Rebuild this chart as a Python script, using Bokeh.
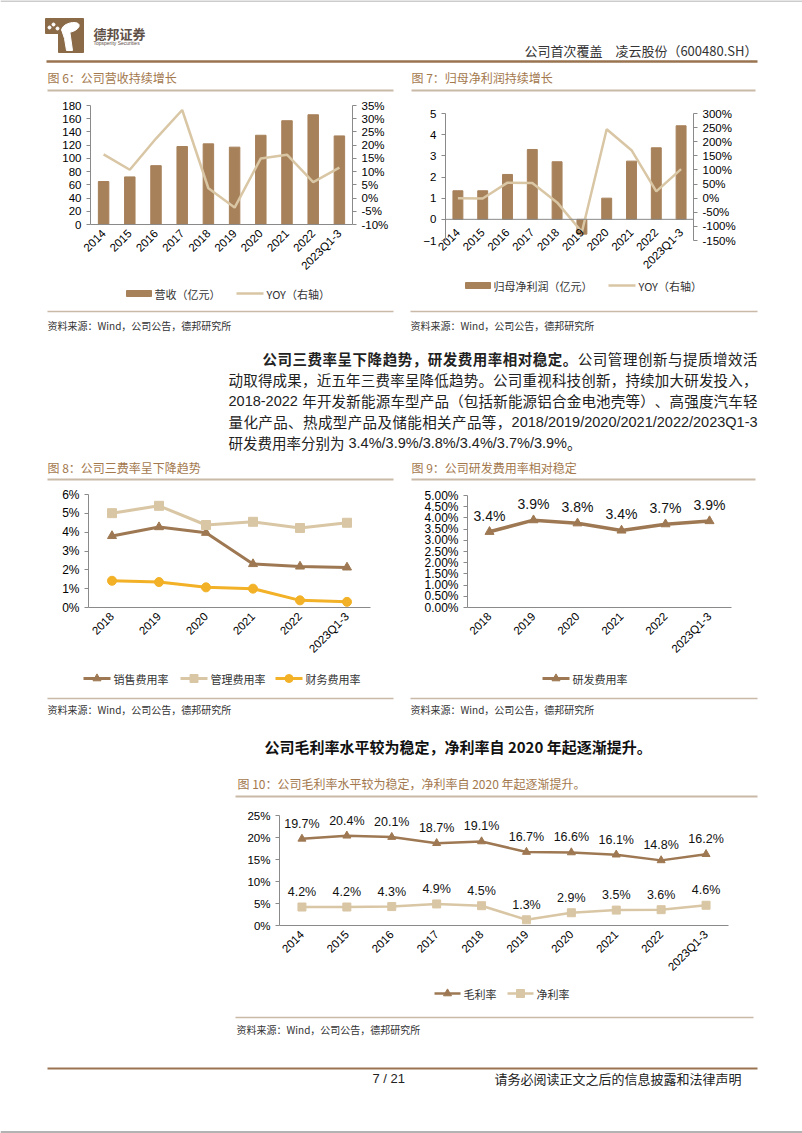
import math
from bokeh.plotting import figure
from bokeh.models import (Range1d, FactorRange, LinearAxis, SingleIntervalTicker,
                          PrintfTickFormatter, LabelSet, ColumnDataSource, Span)
from bokeh.layouts import column, row
from bokeh.core.properties import value
from bokeh.embed import file_html
from bokeh.resources import INLINE

CJK = "Noto Sans CJK SC"
LAT = "Liberation Sans"

# ---------------- data ----------------
years10 = ["2014", "2015", "2016", "2017", "2018", "2019", "2020", "2021", "2022", "2023Q1-3"]
revenue = [65, 72, 89, 118, 122, 117, 135, 157, 166, 134]
revenue_yoy = [16.5, 10.7, 22.5, 33.3, 3.7, -3.6, 15.0, 16.4, 6.0, 11.5]
profit = [1.35, 1.35, 2.12, 3.30, 2.72, -0.70, 1.00, 2.75, 3.38, 4.42]
profit_yoy = [0, -1, 55, 54, -15, -120, 244, 170, 24, 103]

years6 = ["2018", "2019", "2020", "2021", "2022", "2023Q1-3"]
sales_rate = [3.80, 4.27, 3.97, 2.31, 2.18, 2.13]
admin_rate = [5.01, 5.40, 4.38, 4.55, 4.22, 4.50]
fin_rate = [1.42, 1.35, 1.07, 1.00, 0.38, 0.30]
rd_rate = [3.38, 3.90, 3.76, 3.44, 3.72, 3.86]
rd_labels = ["3.4%", "3.9%", "3.8%", "3.4%", "3.7%", "3.9%"]

gross_margin = [19.7, 20.4, 20.1, 18.7, 19.1, 16.7, 16.6, 16.1, 14.8, 16.2]
net_margin = [4.2, 4.2, 4.3, 4.9, 4.5, 1.3, 2.9, 3.5, 3.6, 4.6]

# ---------------- styles ----------------
BAR = "#A7815A"
TAN = "#D9C6A4"
DARK = "#9E7852"
GOLD = "#F2B126"
HEAD = "#9A7450"
TITLE = "#A3784D"
RULE = "#C9B9A7"
AX = "#8a8a8a"
W = 802


def deco(y0, h):
    p = figure(width=W, height=h, x_range=Range1d(0, W), y_range=Range1d(y0 + h, y0),
               toolbar_location=None, output_backend="svg",
               x_axis_location=None, y_axis_location=None, outline_line_color=None,
               min_border_left=0, min_border_right=0, min_border_top=0, min_border_bottom=0)
    p.xgrid.visible = False
    p.ygrid.visible = False
    return p


def txt(p, x, y, s, size, color="#333333", font=CJK, align="left", style="normal"):
    p.text(x=[x], y=[y], text=[s], text_font=value(font), text_font_size=f"{size}px",
           text_color=color, text_align=align, text_baseline="middle", text_font_style=style)


def hl(p, x0, x1, y, color=RULE, w=1.5):
    p.segment(x0=[x0], y0=[y], x1=[x1], y1=[y], line_color=color, line_width=w)


def leg_bar(p, x, y, label):
    p.quad(left=[x], right=[x + 25], top=[y - 3], bottom=[y + 3], color=BAR)
    txt(p, x + 28, y, label, 11)


def leg_line(p, x, y, color, label, marker=None, w=27, lw=3):
    p.segment(x0=[x], y0=[y], x1=[x + w], y1=[y], line_color=color, line_width=lw)
    if marker:
        p.scatter(x=[x + w / 2], y=[y], marker=marker, size=8, color=color)
    txt(p, x + w + 3, y, label, 11)


LATW = {c: 0.556 for c in "0123456789"}
LATW.update({"/": 0.278, ".": 0.278, "%": 0.889, "-": 0.333, "Q": 0.778, " ": 0.278})


def tokenize(parts, size):
    toks = []
    for s, style in parts:
        run = ""
        for ch in s:
            if ord(ch) >= 0x2E80 or ch == " ":
                if run:
                    toks.append((run, style, LAT, sum(LATW.get(c, 0.55) for c in run) * size))
                    run = ""
                if ch == " ":
                    toks.append(("", style, LAT, 0.278 * size))
                else:
                    toks.append((ch, style, CJK, size))
            else:
                run += ch
        if run:
            toks.append((run, style, LAT, sum(LATW.get(c, 0.55) for c in run) * size))
    return toks


def para(p, x0, x1, y, parts, size, color="#222222"):
    toks = tokenize(parts, size)
    total = sum(t[3] for t in toks)
    gap = 0 if x1 is None else (x1 - x0 - total) / (len(toks) - 1)
    x = x0
    for s, style, font, w in toks:
        if s:
            txt(p, x, y, s, size, color=color, font=font, style=style)
        x += w + gap


def style_axis(ax, size="11.5px"):
    ax.axis_line_color = AX
    ax.major_tick_line_color = AX
    ax.minor_tick_line_color = None
    ax.major_tick_out = 4
    ax.major_tick_in = 0
    ax.major_label_text_font = LAT
    ax.major_label_text_font_size = size
    ax.major_label_text_color = "#000000"


def chart(w, h, factors, y0, y1, ml, mr, mt, mb):
    p = figure(width=w, height=h, x_range=FactorRange(*factors), y_range=Range1d(y0, y1),
               min_border_left=ml, min_border_right=mr, min_border_top=mt, min_border_bottom=mb,
               toolbar_location=None, output_backend="svg", outline_line_color=None)
    p.xgrid.visible = False
    p.ygrid.visible = False
    style_axis(p.xaxis[0])
    style_axis(p.yaxis[0])
    p.xaxis.major_tick_line_color = None
    p.xaxis.major_label_orientation = math.pi / 4
    p.xaxis.major_label_standoff = 3
    return p


# ---------------- header (y 0..96) ----------------
hdr = deco(0, 96)
hl(hdr, 0, W, 0.5, "#9a9a9a", 1)
hdr.patch(x=[45, 83, 83, 58, 58, 45], y=[18, 18, 52, 52, 33, 33], color="#8B6A48")
hdr.ellipse(x=[70], y=[27], width=[18], height=[9], angle=[0.3], color="white")
hdr.patch(x=[61, 69, 72, 66, 64], y=[29, 29, 50, 50, 38], color="white")
hdr.scatter(x=[49, 53, 57], y=[27, 24, 28], size=3, color="white")
txt(hdr, 93, 33, "德邦证券", 13, color="#5E5046", style="bold")
txt(hdr, 93, 42, "Topsperity Securities", 5, color="#5E5046", font=LAT)
txt(hdr, 757, 50, "公司首次覆盖　凌云股份（600480.SH）", 13, color="#333333", align="right")
hl(hdr, 46, 757, 61, HEAD, 2.5)
txt(hdr, 47, 77, "图 6：公司营收持续增长", 12, color=TITLE)
txt(hdr, 411, 77, "图 7：归母净利润持续增长", 12, color=TITLE)
hl(hdr, 47, 393, 90, RULE, 2)
hl(hdr, 411, 755, 90, RULE, 2)

# ---------------- fig 6 (y 96..279, x 0..400) ----------------
p6 = chart(400, 183, years10, 0, 180, 90, 48, 9, 52)
p6.yaxis.ticker = SingleIntervalTicker(interval=20)
p6.extra_y_ranges = {"yoy": Range1d(-10, 35)}
ax6 = LinearAxis(y_range_name="yoy", ticker=SingleIntervalTicker(interval=5),
                 formatter=PrintfTickFormatter(format="%d%%"))
style_axis(ax6)
p6.add_layout(ax6, "right")
p6.vbar(x=years10, top=revenue, width=0.4, color=BAR)
p6.line(x=years10, y=revenue_yoy, y_range_name="yoy", line_color=TAN, line_width=2.5)

# ---------------- fig 7 (y 96..279, x 400..802) ----------------
p7 = chart(402, 183, years10, -1, 5, 45, 109, 17, 39)
p7.yaxis.ticker = SingleIntervalTicker(interval=1)
p7.xaxis.axis_line_color = None
p7.xaxis.major_label_standoff = -14
p7.add_layout(Span(location=0, dimension="width", line_color=AX, line_width=1))
p7.extra_y_ranges = {"yoy": Range1d(-150, 300)}
ax7 = LinearAxis(y_range_name="yoy", ticker=SingleIntervalTicker(interval=50),
                 formatter=PrintfTickFormatter(format="%d%%"))
style_axis(ax7)
p7.add_layout(ax7, "right")
p7.vbar(x=years10, top=profit, width=0.4, color=BAR)
p7.line(x=years10, y=profit_yoy, y_range_name="yoy", line_color=TAN, line_width=2.5)

# ---------------- text block 1 (y 279..482) ----------------
t1 = deco(279, 203)
leg_bar(t1, 126, 293, "营收（亿元）")
leg_line(t1, 236, 293, TAN, "YOY（右轴）", lw=2.5)
leg_bar(t1, 465, 285, "归母净利润（亿元）")
leg_line(t1, 608, 285, TAN, "YOY（右轴）", lw=2.5)
hl(t1, 47, 393, 311, RULE, 1.5)
hl(t1, 410, 757, 311, RULE, 1.5)
txt(t1, 47, 325, "资料来源：Wind，公司公告，德邦研究所", 10)
txt(t1, 410, 325, "资料来源：Wind，公司公告，德邦研究所", 10)
FS = 14.5
para(t1, 262, 757, 358, [("公司三费率呈下降趋势，研发费用率相对稳定。", "bold"),
                         ("公司管理创新与提质增效活", "normal")], FS)
para(t1, 228, 757, 379, [("动取得成果，近五年三费率呈降低趋势。公司重视科技创新，持续加大研发投入，", "normal")], FS)
para(t1, 228, 757, 400, [("2018-2022 年开发新能源车型产品（包括新能源铝合金电池壳等）、高强度汽车轻", "normal")], FS)
para(t1, 228, 757, 421, [("量化产品、热成型产品及储能相关产品等，2018/2019/2020/2021/2022/2023Q1-3", "normal")], FS)
para(t1, 228, None, 442, [("研发费用率分别为 3.4%/3.9%/3.8%/3.4%/3.7%/3.9%。", "normal")], FS)
txt(t1, 47, 467, "图 8：公司三费率呈下降趋势", 12, color=TITLE)
txt(t1, 411, 467, "图 9：公司研发费用率相对稳定", 12, color=TITLE)
hl(t1, 47, 393, 479, RULE, 2)
hl(t1, 411, 755, 479, RULE, 2)

# ---------------- fig 8 (y 482..662) ----------------
p8 = chart(400, 180, years6, 0, 6, 88, 30, 12, 51)
p8.yaxis.ticker = SingleIntervalTicker(interval=1)
p8.yaxis.formatter = PrintfTickFormatter(format="%d%%")
p8.yaxis.major_label_text_font_size = "12px"
p8.line(x=years6, y=sales_rate, line_color=DARK, line_width=3)
p8.scatter(x=years6, y=sales_rate, marker="triangle", size=9, color=DARK)
p8.line(x=years6, y=admin_rate, line_color=TAN, line_width=3)
p8.scatter(x=years6, y=admin_rate, marker="square", size=9, color=TAN)
p8.line(x=years6, y=fin_rate, line_color=GOLD, line_width=3)
p8.scatter(x=years6, y=fin_rate, marker="circle", size=9, color=GOLD)

# ---------------- fig 9 (y 482..662) ----------------
p9 = chart(402, 180, years6, 0, 5, 67, 71, 13, 51)
p9.yaxis.ticker = SingleIntervalTicker(interval=0.5)
p9.yaxis.formatter = PrintfTickFormatter(format="%.2f%%")
p9.yaxis.major_label_text_font_size = "12px"
p9.line(x=years6, y=rd_rate, line_color=DARK, line_width=3.5)
p9.scatter(x=years6, y=rd_rate, marker="triangle", size=9, color=DARK)
src9 = ColumnDataSource(dict(x=years6, y=rd_rate, t=rd_labels))
p9.add_layout(LabelSet(x="x", y="y", text="t", source=src9, y_offset=16, text_align="center",
                       text_baseline="middle", text_font=value(LAT), text_font_size="14px",
                       text_color="#111111"))

# ---------------- text block 2 (y 662..805) ----------------
t2 = deco(662, 143)
leg_line(t2, 83, 678, DARK, "销售费用率", "triangle")
leg_line(t2, 180, 678, TAN, "管理费用率", "square")
leg_line(t2, 275, 678, GOLD, "财务费用率", "circle")
leg_line(t2, 542, 678, DARK, "研发费用率", "triangle")
hl(t2, 47, 393, 698, RULE, 1.5)
hl(t2, 410, 757, 698, RULE, 1.5)
txt(t2, 47, 709, "资料来源：Wind，公司公告，德邦研究所", 10)
txt(t2, 410, 709, "资料来源：Wind，公司公告，德邦研究所", 10)
txt(t2, 264, 746, "公司毛利率水平较为稳定，净利率自 2020 年起逐渐提升。", 15, color="#111111", style="bold")
txt(t2, 237, 783, "图 10：公司毛利率水平较为稳定，净利率自 2020 年起逐渐提升。", 12, color=TITLE)
hl(t2, 235, 757, 796, RULE, 2)

# ---------------- fig 10 (y 805..980) ----------------
p10 = chart(W, 175, years10, 0, 25, 279, 74, 10, 53)
p10.yaxis.ticker = SingleIntervalTicker(interval=5)
p10.yaxis.formatter = PrintfTickFormatter(format="%d%%")
p10.line(x=years10, y=gross_margin, line_color=DARK, line_width=2.5)
p10.scatter(x=years10, y=gross_margin, marker="triangle", size=8, color=DARK)
p10.line(x=years10, y=net_margin, line_color=TAN, line_width=2.5)
p10.scatter(x=years10, y=net_margin, marker="square", size=8, color=TAN)
for vals in (gross_margin, net_margin):
    s = ColumnDataSource(dict(x=years10, y=vals, t=[f"{v:.1f}%" for v in vals]))
    p10.add_layout(LabelSet(x="x", y="y", text="t", source=s, y_offset=15, text_align="center",
                            text_baseline="middle", text_font=value(LAT), text_font_size="12.5px",
                            text_color="#111111"))

# ---------------- footer (y 980..1133) ----------------
ft = deco(980, 153)
leg_line(ft, 434, 993, DARK, "毛利率", "triangle", w=26, lw=2.5)
leg_line(ft, 507, 993, TAN, "净利率", "square", w=26, lw=2.5)
hl(ft, 235, 753, 1017, RULE, 1.5)
txt(ft, 236, 1029, "资料来源：Wind，公司公告，德邦研究所", 10)
hl(ft, 47, 757, 1068, HEAD, 2)
txt(ft, 372, 1078, "7 / 21", 13, color="#222222", font=LAT)
txt(ft, 494, 1078, "请务必阅读正文之后的信息披露和法律声明", 13, color="#222222")
hl(ft, 0, W, 1131.5, "#9a9a9a", 1.5)

layout = column(row(hdr), row(column(p6), column(p7)), row(t1),
                row(column(p8), column(p9)), row(t2), row(p10), row(ft))
open("out.html", "w").write(file_html(layout, INLINE))
